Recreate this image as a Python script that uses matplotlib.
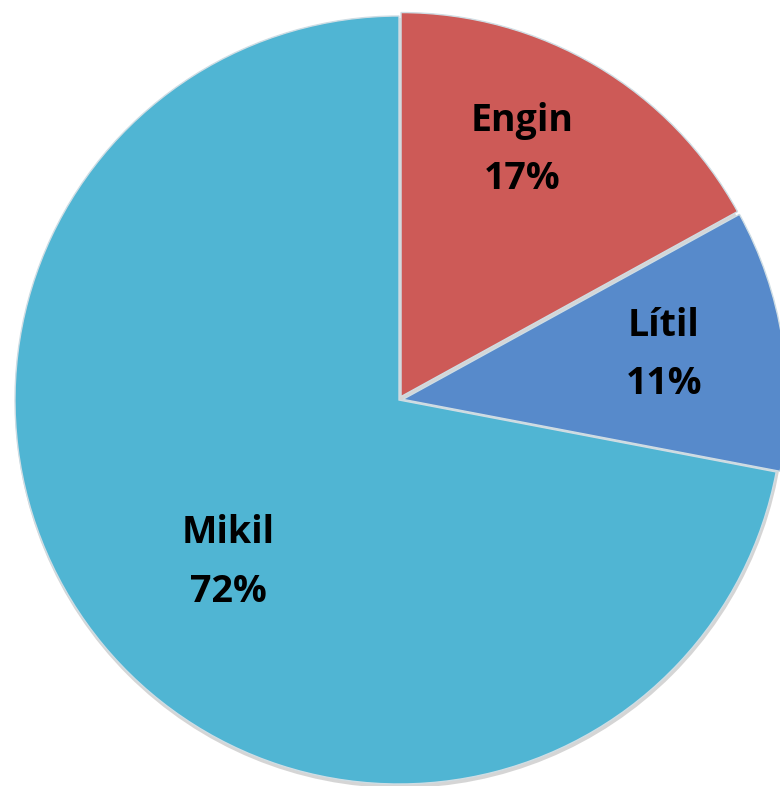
import numpy as np
import matplotlib.pyplot as plt
from matplotlib.patches import Circle

# data
labels = ['Engin', 'Lítil', 'Mikil']
shares = [17, 11, 72]
colors = ['#CD5A57', '#578ACB', '#50B5D3']

W, H = 780, 786
fig = plt.figure(figsize=(W / 100, H / 100), dpi=100)
ax = fig.add_axes([0, 0, 1, 1])

cx, cy, r = 399, H - 400, 384

# soft shadow under the pie
ax.add_patch(Circle((cx + 1, cy - 3), r + 1, color='#888888', alpha=0.35, lw=0))

wedges, _ = ax.pie(shares, colors=colors, startangle=90, counterclock=False,
                   explode=[4, 4, 0], radius=r, center=(cx, cy),
                   frame=True,
                   wedgeprops=dict(edgecolor='#cfdde4', linewidth=1.0))
ax.set_xlim(0, W)
ax.set_ylim(0, H)
ax.set_aspect('equal')
ax.axis('off')

# label placement: distance (fraction of radius) and angle nudge (deg)
dists = [0.73, 0.70, 0.61]
nudges = [4.6, 1.0, 3.7]
for w, name, pct, d, da in zip(wedges, labels, shares, dists, nudges):
    ang = np.deg2rad((w.theta1 + w.theta2) / 2 + da)
    x = cx + d * r * np.cos(ang)
    y = cy + d * r * np.sin(ang)
    ax.text(x, y - 2, f'{name}\n{pct}%', ha='center', va='center',
            fontsize=27, fontweight='bold', family='Open Sans',
            linespacing=1.7, color='black')

fig.savefig('out.png', dpi=100)
